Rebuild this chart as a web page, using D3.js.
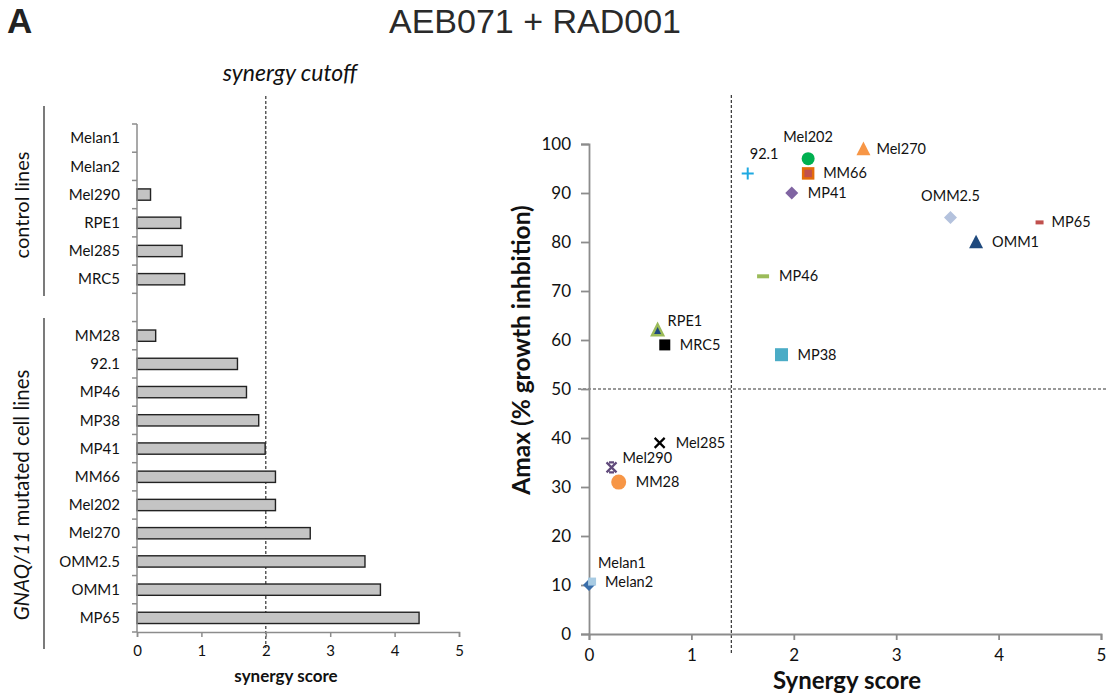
<!DOCTYPE html>
<html>
<head>
<meta charset="utf-8">
<script src="https://cdn.jsdelivr.net/npm/d3@7"></script>
<style>
  body { margin: 0; background: #fff; }
  svg { font-family: Lato, "Open Sans", sans-serif; }
</style>
</head>
<body>
<div id="chart"></div>
<script>
// bar chart data (top to bottom), "" is the gap between the two groups
var barNames = ["Melan1", "Melan2", "Mel290", "RPE1", "Mel285", "MRC5", "",
    "MM28", "92.1", "MP46", "MP38", "MP41", "MM66", "Mel202", "Mel270", "OMM2.5", "OMM1", "MP65"];
var barScores = [0, 0, 0.21, 0.68, 0.70, 0.74, null,
    0.29, 1.56, 1.70, 1.89, 1.99, 2.15, 2.15, 2.69, 3.54, 3.78, 4.38];
var barTicks = [0, 1, 2, 3, 4, 5];
var cutoffBar = 2;

// scatter data
var scatterNames = ["92.1", "Mel202", "MM66", "MP41", "Mel270", "OMM2.5", "MP65", "OMM1",
    "MP46", "MP38", "RPE1", "MRC5", "Mel285", "Mel290", "MM28", "Melan1", "Melan2"];
var scatterScore = [1.55, 2.14, 2.14, 1.98, 2.68, 3.53, 4.40, 3.78,
    1.70, 1.88, 0.67, 0.74, 0.69, 0.22, 0.29, 0, 0.03];
var scatterAmax = [94, 97, 94, 90, 99, 85, 84, 80,
    73, 57, 62, 59, 39, 34, 31, 10, 10.7];
var xTicks = [0, 1, 2, 3, 4, 5];
var yTicks = [0, 10, 20, 30, 40, 50, 60, 70, 80, 90, 100];
var cutoffX = 1.39, cutoffY = 50;

// marker look + label placement per cell line
var look = {
    "92.1":   { m: "plus", c: "#1fa9e1", s: 12, dx: 2, dy: -19, a: "start" },
    "Mel202": { m: "circle", c: "#00b050", s: 13, dx: 0, dy: -22, a: "middle" },
    "MM66":   { m: "square", c: "#c0504d", st: "#e46c0a", s: 10, dx: 15, dy: 0, a: "start" },
    "MP41":   { m: "diamond", c: "#8064a2", s: 13, dx: 16, dy: 0, a: "start" },
    "Mel270": { m: "triangle", c: "#f79646", s: 14, dx: 13, dy: 0, a: "start" },
    "OMM2.5": { m: "diamond", c: "#b4c2dd", s: 13, dx: 0, dy: -22, a: "middle" },
    "MP65":   { m: "dash", c: "#c0504d", s: 8, dx: 12, dy: 0, a: "start" },
    "OMM1":   { m: "triangle", c: "#1f497d", s: 14, dx: 16, dy: 0, a: "start" },
    "MP46":   { m: "dash", c: "#9bbb59", s: 12, dx: 16, dy: 0, a: "start" },
    "MP38":   { m: "square", c: "#4bacc6", s: 13, dx: 16, dy: 0, a: "start" },
    "RPE1":   { m: "triangle", c: "#1f497d", st: "#9bbb59", s: 11, dx: 10, dy: -9, a: "start" },
    "MRC5":   { m: "square", c: "#000000", s: 11, dx: 15, dy: 0, a: "start" },
    "Mel285": { m: "x", c: "#000000", s: 10, dx: 16, dy: 0, a: "start" },
    "Mel290": { m: "star", c: "#604a7b", s: 10, dx: 11, dy: -9, a: "start" },
    "MM28":   { m: "circle", c: "#f79646", s: 15, dx: 17, dy: 0, a: "start" },
    "Melan1": { m: "diamond", c: "#3a6eaa", s: 12, dx: 9, dy: -22, a: "start" },
    "Melan2": { m: "square", c: "#a8cbe3", s: 8, dx: 13, dy: 0, a: "start" }
};

var W = 1108, H = 694;
var axisGrey = "#8c8c8c";
var ink = "#111";

var svg = d3.select("#chart")
    .append("svg")
    .attr("width", W)
    .attr("height", H);

// panel letter and title
svg.append("text")
    .attr("x", 7).attr("y", 33)
    .style("font-family", "'Liberation Sans', Arial, sans-serif")
    .style("font-size", "35px").style("font-weight", "bold")
    .attr("fill", "#222")
    .text("A");

svg.append("text")
    .attr("x", 535).attr("y", 33)
    .attr("text-anchor", "middle")
    .style("font-family", "'Liberation Sans', Arial, sans-serif")
    .style("font-size", "34px")
    .attr("fill", "#2a2a2a")
    .text("AEB071 + RAD001");

// ---------- left: bar chart ----------
var bx = d3.scaleLinear().domain([0, 5]).range([137, 459]);
var by = d3.scaleBand().domain(barNames.map(function (d, i) { return i; })).range([124, 632]);

var barG = svg.append("g");

// cutoff line
barG.append("line")
    .attr("x1", bx(cutoffBar)).attr("x2", bx(cutoffBar))
    .attr("y1", 96).attr("y2", 648)
    .attr("stroke", "#333").attr("stroke-width", 1.2)
    .attr("stroke-dasharray", "3,2");

barG.append("text")
    .attr("x", 290).attr("y", 81)
    .attr("text-anchor", "middle")
    .style("font-size", "23px").style("font-style", "italic")
    .attr("fill", ink)
    .text("synergy cutoff");

// bars
barG.selectAll("rect.bar")
    .data(barScores.map(function (v, i) { return { i: i, v: v }; })
        .filter(function (d) { return d.v; }))
    .enter()
    .append("rect")
    .attr("class", "bar")
    .attr("x", bx(0))
    .attr("y", function (d) { return by(d.i) + by.bandwidth() * 0.3; })
    .attr("width", function (d) { return bx(d.v) - bx(0); })
    .attr("height", by.bandwidth() * 0.4)
    .attr("fill", "#c4c4c4")
    .attr("stroke", "#222")
    .attr("stroke-width", 1.4);

// y axis with ticks at category boundaries
barG.append("line")
    .attr("x1", bx(0)).attr("x2", bx(0))
    .attr("y1", by.range()[0]).attr("y2", by.range()[1])
    .attr("stroke", axisGrey).attr("stroke-width", 1.5);
barG.selectAll("line.ytick")
    .data(d3.range(barNames.length + 1))
    .enter()
    .append("line")
    .attr("class", "ytick")
    .attr("x1", bx(0) - 5).attr("x2", bx(0))
    .attr("y1", function (i) { return by.range()[0] + i * by.step(); })
    .attr("y2", function (i) { return by.range()[0] + i * by.step(); })
    .attr("stroke", axisGrey).attr("stroke-width", 1.5);
barG.selectAll("text.ylab")
    .data(barNames)
    .enter()
    .append("text")
    .attr("class", "ylab")
    .attr("x", 120)
    .attr("y", function (d, i) { return by(i) + by.bandwidth() / 2; })
    .attr("dy", "0.35em")
    .attr("text-anchor", "end")
    .style("font-size", "15px")
    .attr("fill", ink)
    .text(function (d) { return d; });

// x axis
var bxAxis = barG.append("g")
    .attr("transform", "translate(0," + by.range()[1] + ")")
    .call(d3.axisBottom(bx).tickValues(barTicks).tickFormat(d3.format("d")).tickSize(5).tickPadding(8));
bxAxis.select(".domain").attr("stroke", axisGrey).attr("stroke-width", 1.5);
bxAxis.selectAll(".tick line").attr("stroke", axisGrey).attr("stroke-width", 1.5);
bxAxis.selectAll(".tick text").style("font-size", "15px").style("font-family", "Lato, sans-serif").attr("fill", ink);

barG.append("text")
    .attr("x", 286).attr("y", 682)
    .attr("text-anchor", "middle")
    .style("font-size", "17px").style("font-weight", "bold")
    .attr("fill", ink)
    .text("synergy score");

// group brackets
barG.append("line").attr("x1", 44).attr("x2", 44).attr("y1", 106).attr("y2", 296)
    .attr("stroke", "#222").attr("stroke-width", 1.2);
barG.append("line").attr("x1", 44).attr("x2", 44).attr("y1", 318).attr("y2", 649)
    .attr("stroke", "#222").attr("stroke-width", 1.2);

barG.append("text")
    .attr("transform", "translate(29,205) rotate(-90)")
    .attr("text-anchor", "middle")
    .style("font-size", "20px")
    .attr("fill", ink)
    .text("control lines");

var gt = barG.append("text")
    .attr("transform", "translate(29,495) rotate(-90)")
    .attr("text-anchor", "middle")
    .style("font-size", "20.5px")
    .attr("fill", ink);
gt.append("tspan").style("font-style", "italic").text("GNAQ/11");
gt.append("tspan").text(" mutated cell lines");

// ---------- right: scatter ----------
var sx = d3.scaleLinear().domain([0, 5]).range([589, 1101]);
var sy = d3.scaleLinear().domain([0, 100]).range([634, 144]);

var sg = svg.append("g");

// cutoff lines
sg.append("line")
    .attr("x1", sx(cutoffX)).attr("x2", sx(cutoffX))
    .attr("y1", 95).attr("y2", 653)
    .attr("stroke", "#333").attr("stroke-width", 1.2)
    .attr("stroke-dasharray", "3,2");
sg.append("line")
    .attr("x1", 578).attr("x2", 1108)
    .attr("y1", sy(cutoffY)).attr("y2", sy(cutoffY))
    .attr("stroke", "#333").attr("stroke-width", 1.2)
    .attr("stroke-dasharray", "3,2");

var sxAxis = sg.append("g")
    .attr("transform", "translate(0," + sy(0) + ")")
    .call(d3.axisBottom(sx).tickValues(xTicks).tickFormat(d3.format("d")).tickSize(6).tickPadding(9));
var syAxis = sg.append("g")
    .attr("transform", "translate(" + sx(0) + ",0)")
    .call(d3.axisLeft(sy).tickValues(yTicks).tickSize(8).tickPadding(10));
[sxAxis, syAxis].forEach(function (a) {
    a.select(".domain").attr("stroke", axisGrey).attr("stroke-width", 1.8);
    a.selectAll(".tick line").attr("stroke", axisGrey).attr("stroke-width", 1.8);
    a.selectAll(".tick text").style("font-size", "17px").style("font-family", "Lato, sans-serif").attr("fill", ink);
});

sg.append("text")
    .attr("x", 847).attr("y", 689)
    .attr("text-anchor", "middle")
    .style("font-size", "24px").style("font-weight", "bold")
    .attr("fill", ink)
    .text("Synergy score");

sg.append("text")
    .attr("transform", "translate(530,350) rotate(-90)")
    .attr("text-anchor", "middle")
    .style("font-size", "24.5px").style("font-weight", "bold")
    .attr("fill", ink)
    .text("Amax (% growth inhbition)");

// markers
var pts = scatterNames.map(function (n, i) {
    return { name: n, x: scatterScore[i], y: scatterAmax[i], k: look[n] };
});

function drawMarker(g, d) {
    var k = d.k, s = k.s;
    if (k.m === "circle") {
        g.append("circle").attr("r", s / 2).attr("fill", k.c);
    } else if (k.m === "square") {
        g.append("rect").attr("x", -s / 2).attr("y", -s / 2).attr("width", s).attr("height", s)
            .attr("fill", k.c).attr("stroke", k.st || "none").attr("stroke-width", k.st ? 2.5 : 0);
    } else if (k.m === "diamond") {
        g.append("path").attr("d", "M0," + (-s / 2) + "L" + (s / 2) + ",0L0," + (s / 2) + "L" + (-s / 2) + ",0Z")
            .attr("fill", k.c);
    } else if (k.m === "triangle") {
        var h = s * 0.9;
        g.append("path").attr("d", "M0," + (-h / 2 - 1) + "L" + (s / 2) + "," + (h / 2) + "L" + (-s / 2) + "," + (h / 2) + "Z")
            .attr("fill", k.c).attr("stroke", k.st || "none").attr("stroke-width", k.st ? 2.5 : 0)
            .attr("stroke-linejoin", "miter");
    } else if (k.m === "dash") {
        g.append("rect").attr("x", -s / 2).attr("y", -2).attr("width", s).attr("height", 4).attr("fill", k.c);
    } else if (k.m === "plus") {
        g.append("path").attr("d", "M" + (-s / 2) + ",0H" + (s / 2) + "M0," + (-s / 2) + "V" + (s / 2))
            .attr("stroke", k.c).attr("stroke-width", 2);
    } else if (k.m === "x") {
        g.append("path").attr("d", "M" + (-s / 2) + "," + (-s / 2) + "L" + (s / 2) + "," + (s / 2) +
            "M" + (s / 2) + "," + (-s / 2) + "L" + (-s / 2) + "," + (s / 2))
            .attr("stroke", k.c).attr("stroke-width", 2.2);
    } else if (k.m === "star") {
        g.append("path").attr("d", "M" + (-s / 2) + "," + (-s / 2) + "L" + (s / 2) + "," + (s / 2) +
            "M" + (s / 2) + "," + (-s / 2) + "L" + (-s / 2) + "," + (s / 2) +
            "M" + (-s / 4) + "," + (-s / 2) + "H" + (s / 4) + "M" + (-s / 4) + "," + (s / 2) + "H" + (s / 4))
            .attr("stroke", k.c).attr("stroke-width", 2.2);
    }
}

var pg = sg.selectAll("g.pt")
    .data(pts)
    .enter()
    .append("g")
    .attr("class", "pt")
    .attr("transform", function (d) { return "translate(" + sx(d.x) + "," + sy(d.y) + ")"; });
pg.each(function (d) { drawMarker(d3.select(this), d); });

pg.append("text")
    .attr("x", function (d) { return d.k.dx; })
    .attr("y", function (d) { return d.k.dy; })
    .attr("dy", "0.35em")
    .attr("text-anchor", function (d) { return d.k.a; })
    .style("font-size", "14.5px")
    .attr("fill", ink)
    .text(function (d) { return d.name; });
</script>
</body>
</html>
